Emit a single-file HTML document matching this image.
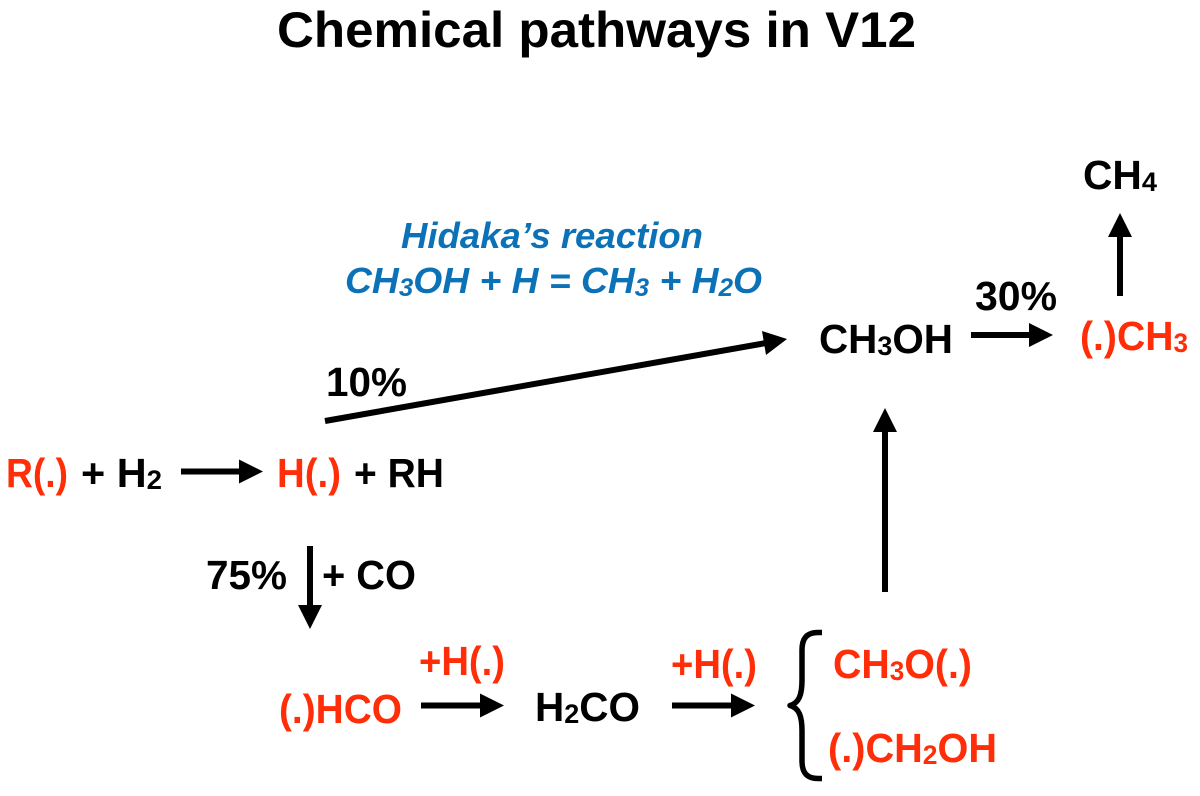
<!DOCTYPE html>
<html>
<head>
<meta charset="utf-8">
<style>
html,body{margin:0;padding:0;background:#fff;width:1200px;height:796px;overflow:hidden}
svg{display:block}
text{font-family:"Liberation Sans",Arial,sans-serif;font-weight:bold;font-size:40.5px;fill:#000}
.r{fill:#ff2d08}
.b{fill:#0b72b8;font-style:italic;font-size:36px}
.s{font-size:27px}
.t{font-size:50px}
.u{font-size:25px}
</style>
</head>
<body>
<svg width="1200" height="796" viewBox="0 0 1200 796" xmlns="http://www.w3.org/2000/svg">
<text class="t" x="277" y="47" textLength="639" lengthAdjust="spacingAndGlyphs">Chemical pathways in V12</text>

<text class="b" x="401" y="248" textLength="302" lengthAdjust="spacingAndGlyphs">Hidaka’s reaction</text>
<text class="b" x="345" y="293" textLength="417" lengthAdjust="spacingAndGlyphs">CH<tspan class="u" dy="3">3</tspan><tspan dy="-3">OH + H = CH</tspan><tspan class="u" dy="3">3</tspan><tspan dy="-3"> + H</tspan><tspan class="u" dy="3">2</tspan><tspan dy="-3">O</tspan></text>

<text x="1083" y="189" textLength="74" lengthAdjust="spacingAndGlyphs">CH<tspan class="s" dy="2">4</tspan></text>
<text x="975" y="310" textLength="82" lengthAdjust="spacingAndGlyphs">30%</text>
<text x="819" y="353" textLength="134" lengthAdjust="spacingAndGlyphs">CH<tspan class="s" dy="2">3</tspan><tspan dy="-2">OH</tspan></text>
<text class="r" x="1080" y="350" textLength="108" lengthAdjust="spacingAndGlyphs">(.)CH<tspan class="s" dy="2">3</tspan></text>
<text x="326" y="396" textLength="81" lengthAdjust="spacingAndGlyphs">10%</text>

<text class="r" x="6" y="487" textLength="62" lengthAdjust="spacingAndGlyphs">R(.)</text>
<text x="81" y="487" textLength="81" lengthAdjust="spacingAndGlyphs">+ H<tspan class="s" dy="2">2</tspan></text>
<text class="r" x="277" y="487" textLength="64" lengthAdjust="spacingAndGlyphs">H(.)</text>
<text x="354" y="487" textLength="90" lengthAdjust="spacingAndGlyphs">+ RH</text>

<text x="206" y="589" textLength="81" lengthAdjust="spacingAndGlyphs">75%</text>
<text x="322" y="589" textLength="94" lengthAdjust="spacingAndGlyphs">+ CO</text>

<text class="r" x="419" y="675" textLength="86" lengthAdjust="spacingAndGlyphs">+H(.)</text>
<text class="r" x="279" y="723" textLength="123" lengthAdjust="spacingAndGlyphs">(.)HCO</text>
<text x="535" y="721" textLength="105" lengthAdjust="spacingAndGlyphs">H<tspan class="s" dy="2">2</tspan><tspan dy="-2">CO</tspan></text>
<text class="r" x="671" y="678" textLength="86" lengthAdjust="spacingAndGlyphs">+H(.)</text>
<text class="r" x="833" y="678" textLength="139" lengthAdjust="spacingAndGlyphs">CH<tspan class="s" dy="2">3</tspan><tspan dy="-2">O(.)</tspan></text>
<text class="r" x="828" y="762" textLength="169" lengthAdjust="spacingAndGlyphs">(.)CH<tspan class="s" dy="2">2</tspan><tspan dy="-2">OH</tspan></text>

<g fill="#000" stroke="none">
<rect x="181" y="468.5" width="60" height="6"/><polygon points="239,459.5 263,471.5 239,483.5"/>
<rect x="307" y="546" width="6" height="61"/><polygon points="298,605 322,605 310,629"/>
<rect x="421" y="702.5" width="61" height="6"/><polygon points="480,693.5 504,705.5 480,717.5"/>
<rect x="672" y="702.5" width="61" height="6"/><polygon points="731,693.5 755,705.5 731,717.5"/>
<rect x="971" y="332" width="60" height="6"/><polygon points="1029,323 1053,335 1029,347"/>
<rect x="1117" y="235" width="6" height="61"/><polygon points="1108,237 1132,237 1120,213"/>
<rect x="882" y="430" width="6" height="162"/><polygon points="873,432 897,432 885,408"/>
<line x1="325" y1="421" x2="766" y2="343" stroke="#000" stroke-width="6"/>
<polygon points="762,331 766,355 787,339"/>
</g>

<path d="M822 632.5 H818 C807 632.5 802 638 802 650 V680 C802 695 799 703 790 705.5 C799 708 802 716 802 731 V761 C802 773 807 778.5 818 778.5 H822" fill="none" stroke="#000" stroke-width="5.5" stroke-linejoin="round"/>
</svg>
</body>
</html>
